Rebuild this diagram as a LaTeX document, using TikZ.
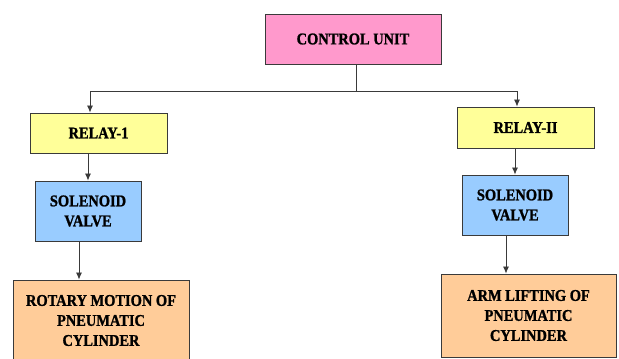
\documentclass[tikz,border=0pt]{standalone}
\usepackage{fontspec}
\newfontfamily\boxfont{Liberation Serif}[FakeStretch=0.88,FakeBold=1.2,UprightFont=* Bold]
\usetikzlibrary{arrows.meta}
\definecolor{cupink}{HTML}{FF99CC}
\definecolor{relayyellow}{HTML}{FFFF99}
\definecolor{valveblue}{HTML}{99CCFF}
\definecolor{cylorange}{HTML}{FFCC99}
\definecolor{edgegray}{HTML}{3A3A3A}
\begin{document}
\begin{tikzpicture}[x=1pt,y=-1pt,>={Latex[length=7pt,width=6pt]},
    box/.style={draw=edgegray,line width=0.9pt,align=center,inner sep=0pt,
        font=\boxfont\fontsize{16.4}{20}\selectfont},
    link/.style={draw=edgegray,line width=0.8pt}]
            \useasboundingbox (0,0) rectangle (619,359);
            \node[box,minimum width=176,minimum height=50,fill=cupink] (ctrl) at (353,39) {CONTROL UNIT};
            \node[box,minimum width=137,minimum height=40,fill=relayyellow] (relayA) at (98.5,133) {RELAY-1};
            \node[box,minimum width=106,minimum height=60,fill=valveblue] (valveA) at (88,211) {SOLENOID\\VALVE};
            \node[box,minimum width=176,minimum height=81,fill=cylorange] (rotary) at (101,320.5) {ROTARY MOTION OF\\PNEUMATIC\\CYLINDER};
            \node[box,minimum width=137,minimum height=41,fill=relayyellow] (relayB) at (525.5,127.5) {RELAY-II};
            \node[box,minimum width=106,minimum height=60,fill=valveblue] (valveB) at (515,205) {SOLENOID\\VALVE};
            \node[box,minimum width=175,minimum height=83,fill=cylorange] (arm) at (528.5,315.5) {ARM LIFTING OF\\PNEUMATIC\\CYLINDER};
            \coordinate (split) at ([xshift=3]ctrl.south |- 0,91);
            \draw[link] ([xshift=3]ctrl.south) -- (split);
            \draw[link,->] (split) -| ([xshift=-8.5]relayA.north);
            \draw[link,->] (split) -| ([xshift=-8.5]relayB.north);
            \draw[link,->] (valveA.north |- relayA.south) -- (valveA.north);
            \draw[link,->] (valveB.north |- relayB.south) -- (valveB.north);
            \draw[link,->] ([xshift=-9]valveA.south) -- ([xshift=-9]valveA.south |- rotary.north);
            \draw[link,->] ([xshift=-9]valveB.south) -- ([xshift=-9]valveB.south |- arm.north);
        \end{tikzpicture}
\end{document}
